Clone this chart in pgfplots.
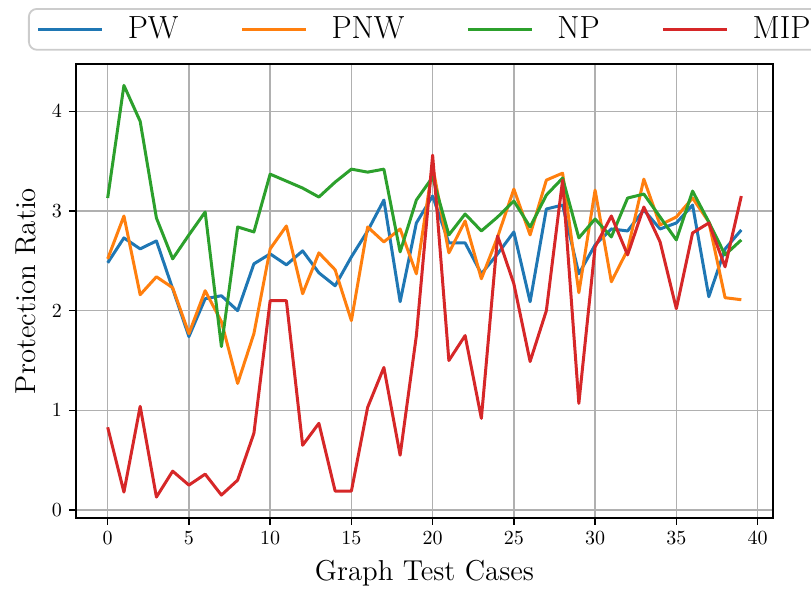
\documentclass[border=0pt]{standalone}
\usepackage{pgfplots}
\pgfplotsset{compat=1.18}
\definecolor{c0}{HTML}{1F77B4}
\definecolor{c1}{HTML}{FF7F0E}
\definecolor{c2}{HTML}{2CA02C}
\definecolor{c3}{HTML}{D62728}
\begin{document}
\begin{tikzpicture}
\begin{axis}[
  at={(0,0)}, anchor=south west,
  scale only axis, width=348.5pt, height=227pt,
  xmin=-1.95, xmax=40.95, ymin=-0.08, ymax=4.475,
  xtick={0,5,...,40}, ytick={0,1,2,3,4},
  grid=major, major grid style={color=black!31, line width=0.8pt},
  axis line style={line width=1pt},
  tick align=outside, tick pos=left,
  major tick length=3.5pt,
  every tick/.style={black, line width=0.8pt},
  xlabel={Graph Test Cases}, ylabel={Protection Ratio},
  label style={font=\Large},
  xlabel style={yshift=-1pt},
  ylabel style={yshift=1pt},
  legend columns=4,
  legend style={at={(axis description cs:-0.0689,1.1233)}, anchor=north west,
    draw=black!20, line width=0.9pt, rounded corners=4pt,
    font=\fontsize{16}{19}\selectfont, inner ysep=2pt, inner xsep=4pt,
    /tikz/every even column/.append style={column sep=29pt},
    /tikz/every odd column/.append style={column sep=0pt}},
  legend image code/.code={\draw[#1, line width=1.5pt] (0pt,0pt) -- (32pt,0pt);},
  legend cell align=left,
  every axis plot/.append style={line width=1.5pt, line join=round},
]
\addplot[c0] coordinates {(0,2.48)(1,2.73)(2,2.62)(3,2.70)(4,2.22)(5,1.74)(6,2.12)(7,2.15)(8,2.00)(9,2.47)(10,2.57)(11,2.46)(12,2.60)(13,2.38)(14,2.25)(15,2.54)(16,2.80)(17,3.11)(18,2.09)(19,2.88)(20,3.15)(21,2.68)(22,2.68)(23,2.37)(24,2.57)(25,2.79)(26,2.09)(27,3.02)(28,3.06)(29,2.37)(30,2.66)(31,2.82)(32,2.80)(33,3.01)(34,2.82)(35,2.88)(36,3.06)(37,2.14)(38,2.62)(39,2.81)};
\addlegendentry{\hspace{10pt}PW}
\addplot[c1] coordinates {(0,2.52)(1,2.95)(2,2.16)(3,2.34)(4,2.23)(5,1.77)(6,2.20)(7,1.89)(8,1.27)(9,1.77)(10,2.62)(11,2.85)(12,2.17)(13,2.58)(14,2.41)(15,1.90)(16,2.84)(17,2.69)(18,2.82)(19,2.37)(20,3.45)(21,2.58)(22,2.90)(23,2.32)(24,2.74)(25,3.22)(26,2.76)(27,3.31)(28,3.38)(29,2.18)(30,3.21)(31,2.29)(32,2.61)(33,3.32)(34,2.86)(35,2.94)(36,3.13)(37,2.89)(38,2.13)(39,2.11)};
\addlegendentry{\hspace{10pt}PNW}
\addplot[c2] coordinates {(0,3.13)(1,4.26)(2,3.90)(3,2.93)(4,2.52)(5,2.76)(6,2.99)(7,1.64)(8,2.84)(9,2.79)(10,3.37)(11,3.30)(12,3.23)(13,3.14)(14,3.29)(15,3.42)(16,3.39)(17,3.42)(18,2.59)(19,3.11)(20,3.34)(21,2.76)(22,2.97)(23,2.80)(24,2.94)(25,3.10)(26,2.84)(27,3.16)(28,3.33)(29,2.73)(30,2.92)(31,2.74)(32,3.13)(33,3.17)(34,2.94)(35,2.71)(36,3.20)(37,2.89)(38,2.56)(39,2.71)};
\addlegendentry{\hspace{10pt}NP}
\addplot[c3] coordinates {(0,0.83)(1,0.18)(2,1.04)(3,0.13)(4,0.39)(5,0.25)(6,0.36)(7,0.15)(8,0.30)(9,0.77)(10,2.10)(11,2.10)(12,0.65)(13,0.87)(14,0.19)(15,0.19)(16,1.03)(17,1.43)(18,0.55)(19,1.75)(20,3.56)(21,1.50)(22,1.75)(23,0.92)(24,2.75)(25,2.27)(26,1.49)(27,2.00)(28,3.31)(29,1.07)(30,2.64)(31,2.95)(32,2.56)(33,3.04)(34,2.69)(35,2.02)(36,2.78)(37,2.88)(38,2.44)(39,3.15)};
\addlegendentry{\hspace{10pt}MIP}
\end{axis}
\pgfresetboundingbox
\path[use as bounding box] (-38pt,-35.5pt) rectangle (367.5pt,259pt);
\end{tikzpicture}
\end{document}
